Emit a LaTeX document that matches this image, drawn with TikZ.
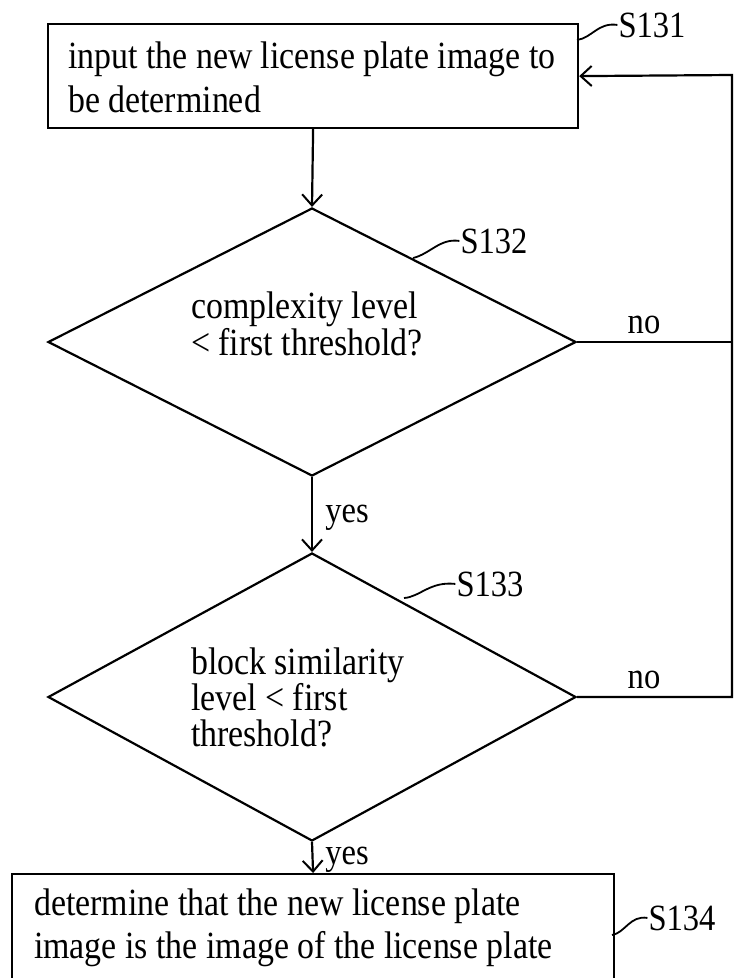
\documentclass[tikz,border=0pt]{standalone}
\usepackage{fontspec}
\setmainfont{Liberation Serif}[FakeStretch=0.88]
\usetikzlibrary{arrows.meta,shapes.geometric}
\begin{document}
\begin{tikzpicture}[x=1pt,y=-1pt,line width=2.2pt,
  boxn/.style={draw,rectangle,inner sep=0pt,anchor=north west},
  dia/.style={draw,diamond,inner sep=0pt},
  txt/.style={font=\fontsize{38.5}{44}\selectfont,inner sep=0pt,anchor=base west},
  lbl/.style={font=\fontsize{37}{40}\selectfont,inner sep=0pt,anchor=base},
  arr/.style={-{Straight Barb[length=11pt,width=20pt,line width=2pt]}},
  sq/.style={line width=1.8pt}]
\useasboundingbox (0,0) rectangle (734,978);
\clip (0,0) rectangle (734,978);
% boxes and diamonds
\node[boxn,minimum width=530pt,minimum height=104pt] (b1) at (47,23) {};
\node[dia,minimum width=528pt,minimum height=268pt] (d1) at (312,342) {};
\node[dia,minimum width=528pt,minimum height=288pt] (d2) at (312,697) {};
\node[boxn,minimum width=602pt,minimum height=130pt] (b2) at (11,873) {};
% texts
\node[txt] (t1a) at (67,68) {input the new license plate image to};
\node[txt] (t1b) at (67,112) {be determined};
\node[txt] (t2a) at (190,318) {complexity level};
\node[txt] (t2b) at (190,355) {< first threshold?};
\node[txt] (t3a) at (190,674) {block similarity};
\node[txt] (t3b) at (190,710) {level < first};
\node[txt] (t3c) at (190,746) {threshold?};
\node[txt] (t4a) at (33,915) {determine that the new license plate};
\node[txt] (t4b) at (33,958) {image is the image of the license plate};
% step labels
\node[lbl] (l1) at (652,37) {S131};
\node[lbl] (l2) at (494,253) {S132};
\node[lbl] (l3) at (490,596) {S133};
\node[lbl] (l4) at (682,930) {S134};
\coordinate (s1) at (577,40);
\coordinate (s2) at (413,258);
\coordinate (s3) at (404,598);
\coordinate (s4) at (612,935);
\draw[sq] (s1) .. controls (592,38) and (598,22) .. (l1.west);
\draw[sq] (s2) .. controls (430,254) and (440,238) .. (l2.west);
\draw[sq] (s3) .. controls (420,597) and (430,581) .. (l3.west);
\draw[sq] (s4) .. controls (625,933) and (630,915) .. (l4.west);
% yes / no
\node[lbl] (n1) at (644,333) {no};
\node[lbl] (n2) at (644,688) {no};
\node[lbl] (y1) at (347,522) {yes};
\node[lbl] (y2) at (347,864) {yes};
% connectors
\coordinate (c1) at (732,342);
\coordinate (c2) at (732,697);
\coordinate (c0) at (732,75);
\draw[arr] (b1.south) -- (d1.north);
\draw[arr] (d1.south) -- (d2.north);
\draw[arr] (d2.south) -- (b2.north);
\draw (d1.east) -- (c1);
\draw[arr] (d2.east) -- (c2) -- (c0) -- (b1.east);
\end{tikzpicture}
\end{document}
